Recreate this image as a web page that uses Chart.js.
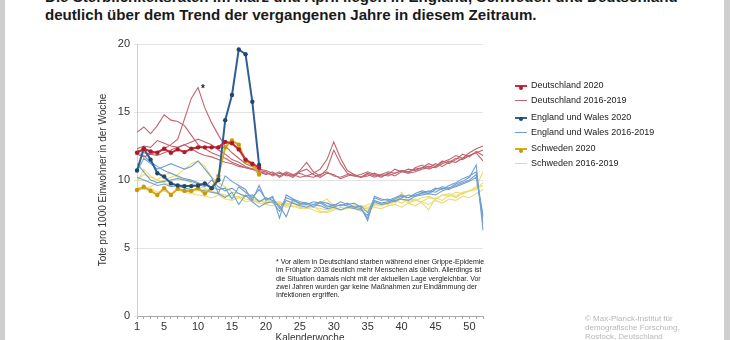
<!DOCTYPE html>
<html lang="de">
<head>
<meta charset="utf-8">
<script src="https://cdn.jsdelivr.net/npm/chart.js@4.4.0/dist/chart.umd.min.js"></script>
<style>
  html, body { margin: 0; padding: 0; width: 730px; height: 340px; overflow: hidden; background: #fff; }
  body { font-family: "Liberation Sans", Arial, sans-serif; position: relative; }
  #chart { position: absolute; left: 0; top: 0; }
  .frame { position: absolute; top: 0; height: 340px; background: #cfcfcf; }
  #title { position: absolute; left: 45px; top: -12px; font-size: 15.1px; line-height: 18px; font-weight: bold; color: #1a1a1a; white-space: nowrap; }
  #note { position: absolute; left: 276px; top: 258px; font-size: 7px; line-height: 8.3px; color: #222; white-space: nowrap; }
  #copy { position: absolute; left: 585px; top: 314px; font-size: 8px; line-height: 9px; color: #b8b8b8; white-space: nowrap; }
  #legend { position: absolute; left: 515px; top: 78px; font-size: 9px; color: #222; }
  #legend .row { position: relative; height: 15px; line-height: 15px; padding-left: 16px; white-space: nowrap; }
  #legend .row.gap { margin-top: 1.5px; }
  #legend .mk { position: absolute; left: 0; top: 7px; width: 12px; }
  #legend .dot { position: absolute; left: 4px; top: -1.5px; width: 4px; height: 4px; border-radius: 50%; }
</style>
</head>
<body>
<div class="frame" style="left:0;width:5px"></div>
<div class="frame" style="left:724px;width:6px"></div>
<div id="title">Die Sterblichkeitsraten im März und April liegen in England, Schweden und Deutschland<br>deutlich über dem Trend der vergangenen Jahre in diesem Zeitraum.</div>
<canvas id="chart" width="730" height="352"></canvas>
<div id="legend"></div>
<div id="note">* Vor allem in Deutschland starben während einer Grippe-Epidemie<br>im Frühjahr 2018 deutlich mehr Menschen als üblich. Allerdings ist<br>die Situation damals nicht mit der aktuellen Lage vergleichbar. Vor<br>zwei Jahren wurden gar keine Maßnahmen zur Eindämmung der<br>Infektionen ergriffen.</div>
<div id="copy">© Max-Planck-Institut für<br>demografische Forschung,<br>Rostock, Deutschland</div>
<script>
// Kalenderwochen
const weeks = Array.from({ length: 52 }, (_, i) => String(i + 1));
const yTicks = [0, 5, 10, 15, 20];

// 2020 (bis KW 19)
const de2020 = [12.0, 12.3, 12.1, 12.0, 12.3, 12.0, 12.25, 12.05, 12.3, 12.4, 12.4, 12.4, 12.4, 12.8, 12.7, 12.25, 11.5, 11.2, 10.9];
const ew2020 = [10.7, 12.3, 11.5, 10.5, 10.25, 9.75, 9.6, 9.55, 9.55, 9.6, 9.75, 9.4, 10.0, 14.4, 16.25, 19.6, 19.25, 15.75, 11.1];
const se2020 = [9.26, 9.5, 9.2, 8.9, 9.4, 8.9, 9.35, 9.2, 9.2, 9.4, 9.0, 9.4, 10.3, 12.4, 12.9, 12.6, 11.4, 11.1, 10.4];

// Deutschland 2016-2019
const de2016 = [11.9, 11.7, 11.9, 11.8, 12.0, 12.2, 12.4, 12.6, 12.8, 13.0, 12.8, 12.6, 12.2, 11.9, 11.5, 11.3, 11.0, 10.8, 10.6,
  10.5, 10.4, 10.6, 10.3, 10.4, 10.5, 10.3, 10.2, 10.4, 10.6, 10.3, 10.2, 10.4, 10.3, 10.2, 10.5,
  10.3, 10.4, 10.6, 10.5, 10.7, 10.6, 10.8, 10.9, 11.0, 10.9, 11.2, 11.4, 11.3, 11.6, 11.8, 12.0, 12.2];
const de2017 = [13.5, 13.9, 13.4, 14.0, 14.8, 14.4, 14.3, 14.0, 13.3, 12.6, 12.3, 12.0, 11.8, 11.6, 11.3, 11.1, 10.9, 10.8, 10.7,
  10.6, 10.3, 10.5, 10.4, 10.2, 10.6, 10.8, 10.4, 10.2, 10.5, 10.4, 10.1, 10.3, 10.4, 10.2, 10.3,
  10.5, 10.3, 10.4, 10.8, 10.6, 10.5, 10.9, 11.1, 10.8, 11.0, 11.3, 11.5, 11.8, 11.6, 12.0, 12.3, 12.5];
const de2018 = [12.2, 12.0, 11.9, 12.1, 12.3, 12.6, 13.0, 14.5, 16.0, 16.8, 15.3, 14.2, 13.3, 12.5, 12.0, 11.6, 11.2, 11.0, 10.8,
  10.7, 10.5, 10.3, 10.6, 10.4, 10.2, 10.3, 10.5, 10.8, 11.5, 12.8, 11.6, 10.7, 10.4, 10.2, 10.4,
  10.2, 10.4, 10.3, 10.5, 10.7, 10.5, 10.6, 10.8, 10.9, 11.2, 11.0, 11.3, 11.6, 11.5, 11.8, 12.0, 11.4];
const de2019 = [12.3, 12.5, 12.4, 12.9, 12.7, 12.5, 12.4, 12.6, 12.3, 12.0, 11.8, 11.7, 11.5, 11.3, 11.2, 11.0, 10.9, 10.8, 10.6,
  10.4, 10.6, 10.2, 10.5, 10.3, 10.7, 11.3, 10.6, 10.3, 10.8, 12.2, 11.2, 10.5, 10.3, 10.4, 10.6,
  10.4, 10.2, 10.5, 10.3, 10.6, 10.8, 10.7, 10.9, 11.2, 11.0, 11.4, 11.2, 11.5, 11.9, 11.7, 12.1, 11.8];

// England und Wales 2016-2019
const ew2016 = [11.2, 10.6, 10.0, 9.8, 9.9, 10.0, 10.1, 10.0, 9.9, 9.7, 9.5, 10.0, 9.5, 9.2, 9.4, 9.0, 8.8, 8.9, 8.4,
  8.7, 8.5, 8.1, 7.3, 8.6, 8.4, 8.3, 8.2, 8.4, 8.1, 8.0, 8.2, 8.1, 8.0, 7.9, 7.2,
  8.5, 8.3, 8.4, 8.6, 8.8, 8.7, 8.9, 9.0, 9.2, 9.1, 9.4, 9.3, 9.6, 9.8, 10.0, 10.4, 7.4];
const ew2017 = [12.0, 11.8, 11.3, 11.0, 10.7, 10.5, 10.3, 10.1, 10.0, 9.8, 9.6, 9.5, 9.3, 9.4, 8.6, 9.5, 9.1, 8.7, 9.3,
  8.6, 8.7, 7.9, 8.7, 8.5, 8.3, 8.2, 8.4, 8.3, 8.0, 8.2, 8.1, 8.3, 8.0, 8.1, 7.6,
  8.7, 8.5, 8.6, 8.4, 8.7, 8.9, 8.8, 9.1, 9.0, 9.3, 9.5, 9.4, 9.7, 9.9, 10.2, 11.1, 6.3];
const ew2018 = [10.6, 11.6, 11.2, 10.8, 11.0, 11.2, 11.0, 10.8, 11.0, 11.4, 10.8, 10.2, 9.0, 10.3, 9.9, 9.6, 9.3, 8.5, 9.6,
  8.5, 8.8, 7.2, 8.9, 8.6, 8.2, 8.3, 8.0, 8.4, 8.3, 8.1, 8.4, 8.2, 8.3, 8.0, 7.0,
  8.8, 8.6, 8.5, 8.7, 8.9, 8.7, 9.0, 9.2, 9.1, 9.4, 9.3, 9.6, 9.8, 10.1, 10.3, 10.6, 6.8];
const ew2019 = [10.2, 10.0, 9.8, 9.6, 9.7, 9.5, 9.6, 9.4, 9.3, 9.3, 9.2, 9.1, 9.0, 8.7, 9.1, 8.2, 8.9, 8.4, 8.0,
  8.3, 8.4, 7.7, 8.5, 8.3, 8.1, 8.0, 8.2, 8.1, 7.9, 8.0, 7.8, 8.0, 7.9, 7.8, 7.4,
  8.4, 8.2, 8.3, 8.5, 8.6, 8.5, 8.8, 8.9, 9.0, 8.9, 9.2, 9.4, 9.5, 9.7, 9.9, 10.2, 7.2];

// Schweden 2016-2019
const se2016 = [10.0, 10.4, 10.2, 10.0, 9.8, 9.6, 9.5, 9.4, 9.3, 9.2, 9.3, 9.1, 9.0, 8.8, 8.9, 8.7, 8.8, 8.6, 8.5,
  8.4, 8.5, 8.3, 8.2, 8.4, 8.1, 8.2, 8.0, 7.9, 7.8, 8.0, 7.8, 7.9, 8.1, 8.0, 8.2,
  8.3, 8.2, 8.4, 8.5, 8.3, 8.6, 8.5, 8.7, 8.8, 8.6, 8.9, 9.0, 8.8, 9.1, 9.2, 9.4, 9.6];
const se2017 = [9.8, 10.8, 10.3, 10.0, 10.4, 10.5, 10.2, 10.0, 9.8, 9.5, 9.4, 9.2, 9.0, 8.9, 8.7, 8.8, 8.6, 8.5, 8.4,
  8.6, 8.3, 8.4, 8.1, 8.3, 8.0, 7.9, 8.1, 7.7, 7.6, 7.8, 8.0, 7.9, 8.2, 8.0, 7.9,
  8.1, 8.3, 8.2, 8.4, 8.6, 8.3, 8.5, 8.4, 8.7, 8.6, 8.9, 8.8, 9.1, 9.0, 9.2, 9.5, 10.6];
const se2018 = [9.2, 9.4, 9.5, 9.8, 10.0, 10.2, 10.4, 10.8, 11.2, 11.4, 11.0, 10.2, 9.8, 9.5, 9.1, 9.0, 8.8, 8.6, 8.5,
  8.3, 8.4, 8.2, 8.3, 8.0, 8.2, 8.1, 8.0, 8.3, 8.6, 8.1, 7.8, 8.0, 7.9, 8.1, 8.0,
  8.2, 8.1, 8.3, 8.2, 9.1, 8.4, 8.6, 8.3, 7.8, 8.7, 8.5, 8.9, 8.7, 9.0, 9.2, 9.3, 9.8];
const se2019 = [9.5, 9.3, 9.4, 9.1, 9.2, 9.0, 9.3, 9.1, 9.0, 8.9, 8.8, 8.7, 8.9, 8.6, 8.5, 8.7, 8.4, 8.5, 8.3,
  8.2, 8.1, 8.3, 8.0, 8.1, 7.9, 8.0, 7.8, 7.6, 7.7, 7.9, 7.8, 8.0, 7.9, 7.7, 7.8,
  8.0, 7.9, 8.1, 8.2, 8.0, 8.3, 8.1, 8.4, 8.2, 8.5, 8.3, 8.6, 8.5, 8.8, 8.7, 9.0, 9.3];

const colors = {
  de: { now: '#cc2a38', dot: '#a81d2b', old: '#c0636f' },
  ew: { now: '#2f5f93', dot: '#22476f', old: '#6f9fcf' },
  se: { now: '#d9ac1c', dot: '#c49810', old: '#ecdc6c' }
};

function now(label, data, c) {
  return { label: label, data: data, borderColor: c.now, backgroundColor: c.dot, pointBackgroundColor: c.dot,
    pointBorderWidth: 0, pointRadius: 2.2, borderWidth: 2, order: 0, showInLegend: true };
}
function old(label, data, c, first) {
  return { label: label, data: data, borderColor: c.old, borderWidth: 1.1, pointRadius: 0, order: 1, showInLegend: first };
}

const datasets = [
  now('Deutschland 2020', de2020, colors.de),
  now('England und Wales 2020', ew2020, colors.ew),
  now('Schweden 2020', se2020, colors.se),
  old('Deutschland 2016-2019', de2016, colors.de, true),
  old('Deutschland 2016-2019', de2017, colors.de, false),
  old('Deutschland 2016-2019', de2018, colors.de, false),
  old('Deutschland 2016-2019', de2019, colors.de, false),
  old('England und Wales 2016-2019', ew2016, colors.ew, true),
  old('England und Wales 2016-2019', ew2017, colors.ew, false),
  old('England und Wales 2016-2019', ew2018, colors.ew, false),
  old('England und Wales 2016-2019', ew2019, colors.ew, false),
  old('Schweden 2016-2019', se2016, colors.se, true),
  old('Schweden 2016-2019', se2017, colors.se, false),
  old('Schweden 2016-2019', se2018, colors.se, false),
  old('Schweden 2016-2019', se2019, colors.se, false)
];

// legend order as in the picture
const legendOrder = ['Deutschland 2020', 'Deutschland 2016-2019', 'England und Wales 2020',
  'England und Wales 2016-2019', 'Schweden 2020', 'Schweden 2016-2019'];

const htmlLegend = {
  id: 'htmlLegend',
  afterUpdate(chart) {
    const box = document.getElementById('legend');
    box.innerHTML = '';
    legendOrder.forEach((name, i) => {
      const ds = chart.data.datasets.find(d => d.label === name && d.showInLegend);
      const row = document.createElement('div');
      row.className = 'row' + (i > 0 && i % 2 === 0 ? ' gap' : '');
      const mk = document.createElement('span');
      mk.className = 'mk';
      mk.style.borderTop = (ds.borderWidth >= 2 ? 2 : 1) + 'px solid ' + ds.borderColor;
      if (ds.pointRadius > 0) {
        const dot = document.createElement('span');
        dot.className = 'dot';
        dot.style.background = ds.pointBackgroundColor;
        mk.appendChild(dot);
      }
      row.appendChild(mk);
      row.appendChild(document.createTextNode(name));
      box.appendChild(row);
    });
  }
};

// star next to the 2018 flu peak in Germany
const starMark = {
  id: 'starMark',
  afterDatasetsDraw(chart) {
    const meta = chart.getDatasetMeta(5);
    const pt = meta.data[9];
    const ctx = chart.ctx;
    ctx.save();
    ctx.fillStyle = '#222';
    ctx.font = 'bold 10px "Liberation Sans", Arial, sans-serif';
    ctx.textAlign = 'left';
    ctx.textBaseline = 'middle';
    ctx.fillText('*', pt.x + 3, pt.y + 2);
    ctx.restore();
  }
};

const ctx = document.getElementById('chart').getContext('2d');
const chart = new Chart(ctx, {
  type: 'line',
  data: { labels: weeks, datasets: datasets },
  plugins: [htmlLegend, starMark],
  options: {
    responsive: false,
    animation: false,
    layout: { padding: { left: 93, top: 44, right: 247, bottom: 0 } },
    elements: { line: { tension: 0 } },
    plugins: { legend: { display: false }, tooltip: { enabled: false } },
    scales: {
      x: {
        type: 'category',
        offset: false,
        afterFit(scale) { scale.height = 36; },
        grid: { drawOnChartArea: false, drawTicks: true, tickLength: 3, color: '#a8a8a8' },
        border: { color: '#a8a8a8' },
        ticks: {
          autoSkip: false, maxRotation: 0, padding: 1, color: '#333',
          font: { family: '"Liberation Sans", Arial, sans-serif', size: 11 },
          callback: function (v, i) {
            const w = Number(weeks[i]);
            return (w === 1 || w % 5 === 0) ? weeks[i] : '';
          }
        },
        title: {
          display: true, text: 'Kalenderwoche', color: '#333',
          font: { family: '"Liberation Sans", Arial, sans-serif', size: 10 },
          padding: { top: 0, bottom: 8 }
        }
      },
      y: {
        min: 0, max: 20,
        afterFit(scale) { scale.width = 44; },
        afterBuildTicks(scale) { scale.ticks = yTicks.map(v => ({ value: v })); },
        grid: { color: '#e3e3e3', tickLength: 3 },
        border: { color: '#d0d0d0' },
        ticks: {
          padding: 4, color: '#333',
          font: { family: '"Liberation Sans", Arial, sans-serif', size: 11 }
        },
        title: {
          display: true, text: 'Tote pro 1000 Einwohner in der Woche', color: '#333',
          font: { family: '"Liberation Sans", Arial, sans-serif', size: 10 },
          padding: { top: 4, bottom: 4 }
        }
      }
    }
  }
});
</script>
</body>
</html>
